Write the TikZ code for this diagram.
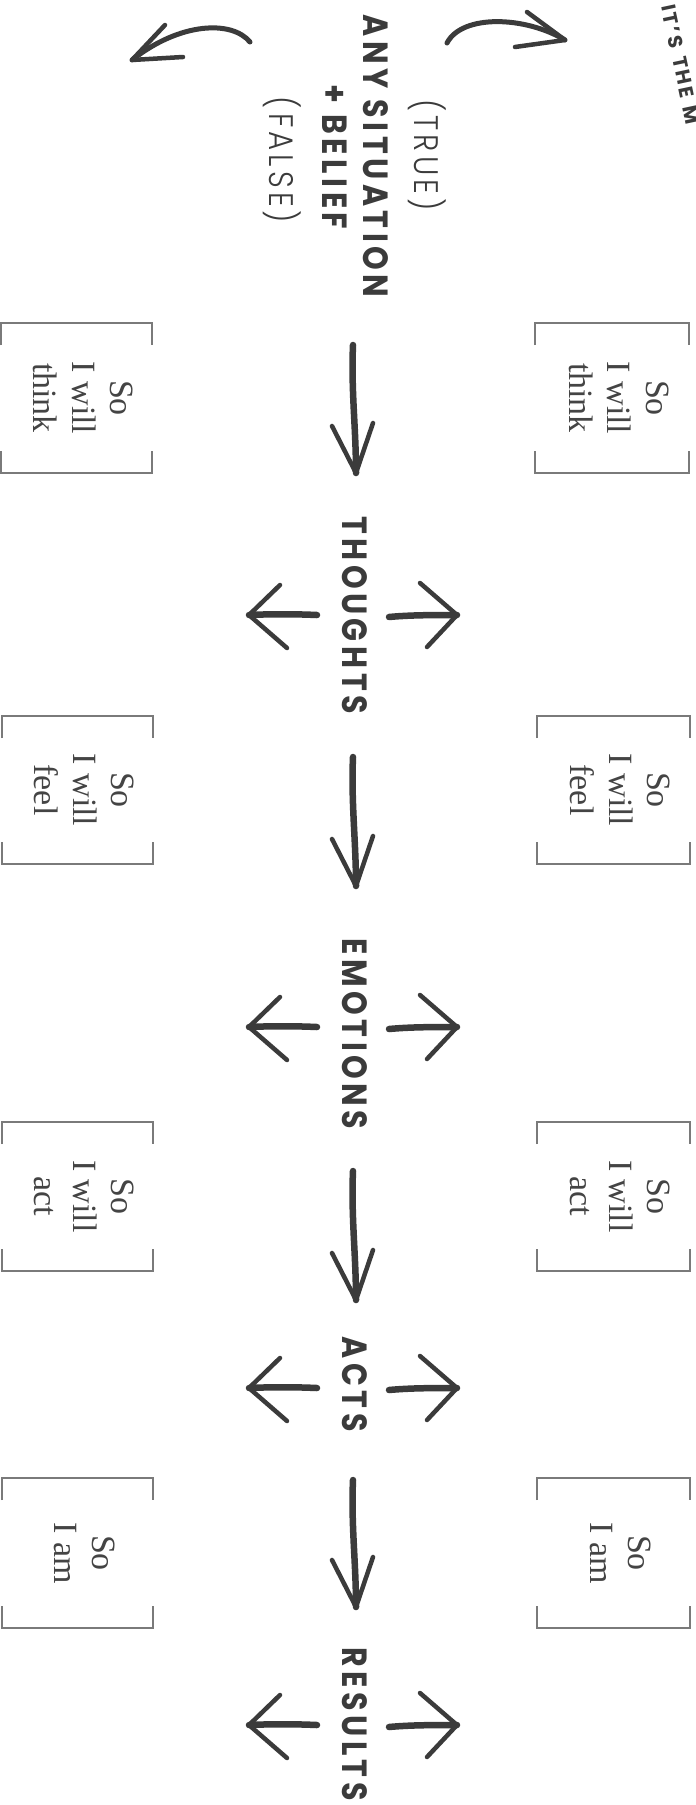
\documentclass[tikz,border=0pt]{standalone}
\usepackage{fontspec}
\setmainfont{Liberation Serif}
\newfontfamily\headfont{Poppins Bold}[LetterSpace=13,FakeStretch=0.86]
\newfontfamily\smallhead{Poppins Bold}[LetterSpace=12]
\newfontfamily\lightfont{Poppins Light}[LetterSpace=12,FakeStretch=0.86]
\definecolor{ink}{HTML}{3B3B3B}
\definecolor{boxc}{HTML}{7A7A7A}
\definecolor{boxtext}{HTML}{444444}
\newcommand\soboxdraw[6]{%
  \draw[frame] (#1,#2+22) -- (#1,#2) -- (#3,#2) -- (#3,#2+22);
  \draw[frame] (#1,#4-22) -- (#1,#4) -- (#3,#4) -- (#3,#4-22);
  \node[boxtxt] (#5) at ({(#1+#3)/2+7},{(#2+#4)/2}) {#6};}
\newcommand\downarr[3]{%
  \coordinate (#1s) at (353,#2);
  \coordinate (#1t) at (356,#3);
  \draw[hand] (#1s) .. controls (351,#2+45) and (356,#3-45) .. (#1t);
  \draw[headl] (332,#3-47) -- (#1t) -- (373,#3-50);}
\newcommand\sidearr[2]{%
  \coordinate (#1L) at (249,#2);
  \coordinate (#1R) at (457,#2);
  \draw[hand] (317,#2) .. controls (295,#2-1) and (270,#2-1) .. (#1L);
  \draw[headl] (280,#2-30) -- (#1L) -- (287,#2+33);
  \draw[hand] (389,#2+2) .. controls (410,#2) and (435,#2) .. (#1R);
  \draw[headl] (420,#2-32) -- (#1R) -- (427,#2+32);}
\begin{document}
\begin{tikzpicture}[x=1pt,y=-1pt,
  hand/.style={draw=ink,line width=6.5pt,line cap=round,line join=round},
  headl/.style={draw=ink,line width=4.5pt,line cap=round,line join=round},
  lbl/.style={rotate=-90,text=ink,font=\headfont\fontsize{35}{35}\selectfont,inner sep=0pt},
  soft/.style={rotate=-90,text=ink,font=\lightfont\fontsize{34}{34}\selectfont,inner sep=0pt},
  boxtxt/.style={rotate=-90,text=boxtext,font=\fontsize{34}{38.5}\selectfont,align=center,inner sep=0pt},
  frame/.style={draw=boxc,line width=1.3pt}]
\fill[white] (0,0) rectangle (696,1805);
\useasboundingbox (0,0) rectangle (696,1805);

% top header
\node[lbl] (situation) at (376,156) {ANY SITUATION};
\node[lbl] (belief) at (335,157) {+ BELIEF};
\node[soft] (true) at (427,155) {(TRUE)};
\node[soft] (false) at (282,160) {(FALSE)};
\begin{scope}
\clip (0,0) rectangle (696,1805);
\node[rotate=-78,anchor=west,text=ink,font=\smallhead\fontsize{20}{20}\selectfont,inner sep=0pt] (its) at (668,5) {IT’S\hspace{9pt}THE\hspace{9pt}M};
\end{scope}

% curved top arrows
\coordinate (lt) at (132,60);
\coordinate (rt) at (565,40);
\draw[headl,line width=5pt] (250,42) .. controls (232,20) and (180,22) .. (lt);
\draw[headl] (165,25) -- (lt) -- (183,57);
\draw[headl,line width=5pt] (447,43) .. controls (462,14) and (525,16) .. (rt);
\draw[headl] (527,12) -- (rt) -- (515,47);

% boxes
\soboxdraw{1}{323}{152}{473}{bl1}{So\\I will\\think}
\soboxdraw{535}{323}{689}{473}{br1}{So\\I will\\think}
\soboxdraw{2}{716}{153}{864}{bl2}{So\\I will\\feel}
\soboxdraw{537}{716}{690}{864}{br2}{So\\I will\\feel}
\soboxdraw{2}{1122}{153}{1271}{bl3}{So\\I will\\act}
\soboxdraw{537}{1122}{690}{1271}{br3}{So\\I will\\act}
\soboxdraw{2}{1478}{153}{1628}{bl4}{So\\I am}
\soboxdraw{537}{1478}{690}{1628}{br4}{So\\I am}

% column labels
\node[lbl] (thoughts) at (355,615) {THOUGHTS};
\node[lbl] (emotions) at (355,1034) {EMOTIONS};
\node[lbl] (acts) at (355,1384) {ACTS};
\node[lbl,anchor=west] (results) at (355,1647) {RESULTS};

% arrows
\downarr{d1}{345}{473}
\downarr{d2}{757}{886}
\downarr{d3}{1171}{1300}
\downarr{d4}{1480}{1607}
\sidearr{a1}{615}
\sidearr{a2}{1027}
\sidearr{a3}{1388}
\sidearr{a4}{1725}
\end{tikzpicture}
\end{document}
